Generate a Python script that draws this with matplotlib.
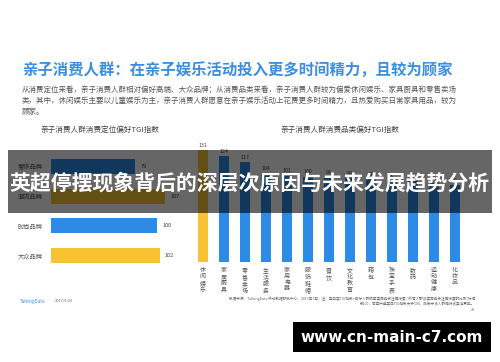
import matplotlib
matplotlib.use("Agg")
import matplotlib.pyplot as plt
from matplotlib.patches import Rectangle

plt.rcParams["font.family"] = ["Noto Sans CJK SC", "DejaVu Sans"]

# data
brand_types = ["奢侈品牌", "潮流品牌", "时尚品牌", "大众品牌"]
brand_tgi = [79, 107, 100, 102]
brand_colors = ["#2d8be6", "#f8c332", "#2d8be6", "#f8c332"]

categories = ["休闲娱乐", "家居厨具", "零售卖场", "生活服务", "家用电器", "服饰鞋帽", "餐饮",
              "文化教育", "箱包", "珠宝手表", "数码", "运动健康", "化妆品"]
category_tgi = [131, 124, 117, 104, 101, 100, 99, 98, 97, 96, 95, 93, 90]

BLUE = "#2d8be6"
YELLOW = "#f8c332"
W, H = 500, 362


def fx(px):
    return px / W


def fy(py):
    return 1 - py / H


fig = plt.figure(figsize=(5, 3.62), dpi=100)
fig.patch.set_facecolor("white")

# headline + description
fig.text(fx(22), fy(70), "亲子消费人群：在亲子娱乐活动投入更多时间精力，且较为顾家",
         fontsize=11.1, color="#3b8fe2", fontweight="bold", va="center")
body = ["从消费定位来看，亲子消费人群相对偏好高端、大众品牌；从消费品类来看，亲子消费人群较为偏爱休闲娱乐、家具厨具和零售卖场",
        "类，其中，休闲娱乐主要以儿童娱乐为主，亲子消费人群愿意在亲子娱乐活动上花费更多时间精力，且热爱购买日常家具用品，较为",
        "顾家。"]
for i, line in enumerate(body):
    fig.text(fx(22), fy(90 + i * 11), line, fontsize=5.4, color="#555555", va="center")

# left chart: brand positioning
fig.text(fx(100), fy(130), "亲子消费人群消费定位偏好TGI指数", fontsize=5.5, color="#444444",
         ha="center", va="center")
ax1 = fig.add_axes([fx(51), fy(270), fx(149), 118 / H])
ax1.barh(range(len(brand_types)), brand_tgi, height=0.52, color=brand_colors)
for i, v in enumerate(brand_tgi):
    ax1.text(v + 5, i, str(v), fontsize=4, color="#444444", va="center")
ax1.set_xlim(0, 140)
ax1.set_ylim(3.5, -0.5)
ax1.set_yticks(range(len(brand_types)))
ax1.set_yticklabels(brand_types, fontsize=4.5, color="#555555")
ax1.set_xticks([])
ax1.tick_params(axis="y", length=0, pad=6)
for s in ax1.spines.values():
    s.set_visible(False)

# right chart: category preference
fig.text(fx(340), fy(130), "亲子消费人群消费品类偏好TGI指数", fontsize=5.5, color="#444444",
         ha="center", va="center")
ax2 = fig.add_axes([fx(192.5), fy(262), fx(273), 128 / H])
cat_colors = [YELLOW] + [BLUE] * (len(categories) - 1)
ax2.bar(range(len(categories)), category_tgi, width=0.46, color=cat_colors)
for i, v in enumerate(category_tgi):
    ax2.text(i, v + 3, str(v), fontsize=3.8, color="#444444", ha="center", va="bottom")
ax2.set_xlim(-0.5, len(categories) - 0.5)
ax2.set_ylim(0, 150)
ax2.set_xticks(range(len(categories)))
ax2.set_xticklabels(["\n".join(c) for c in categories], fontsize=4.3, color="#555555",
                    linespacing=1.3, va="top")
ax2.set_yticks([])
ax2.tick_params(axis="x", length=0, pad=4)
for s in ax2.spines.values():
    s.set_visible(False)

# footer
fig.text(fx(475), fy(299), "数据来源：TalkingData 移动数据研究中心，2017年7月；注：某品类TGI指数=目标人群的某类商品关注偏好度 / 所有人群该类商品关注偏好度的比例*标准",
         fontsize=2.6, color="#666666", ha="right", va="center")
fig.text(fx(475), fy(304), "数100，若某兴趣类目TGI指数大于100，则表示该人群偏好该类消费品。",
         fontsize=2.6, color="#666666", ha="right", va="center")
fig.text(fx(475), fy(310), "28", fontsize=2.6, color="#666666", ha="right", va="center")
fig.text(fx(20), fy(301), "TalkingData", fontsize=3.3, color="#3b8fe2", va="center")
fig.text(fx(55), fy(301), "2017/9/26", fontsize=2.8, color="#666666", va="center")

# overlay banner
fig.add_artist(Rectangle((fx(8), fy(213)), fx(484), 63 / H, transform=fig.transFigure,
                         facecolor="black", alpha=0.6, edgecolor="none", zorder=10))
fig.text(0.5, fy(183), "英超停摆现象背后的深层次原因与未来发展趋势分析", fontsize=15,
         color="white", fontweight="bold", ha="center", va="center", zorder=11)

# watermark
fig.add_artist(Rectangle((fx(293), fy(352)), fx(198), 30 / H, transform=fig.transFigure,
                         facecolor="black", edgecolor="none", zorder=10))
fig.text(fx(392), fy(337), "www.cn-main-c7.com", fontsize=11, color="white",
         fontweight="bold", family="DejaVu Sans", ha="center", va="center", zorder=11)

fig.savefig("out.png", dpi=100)
